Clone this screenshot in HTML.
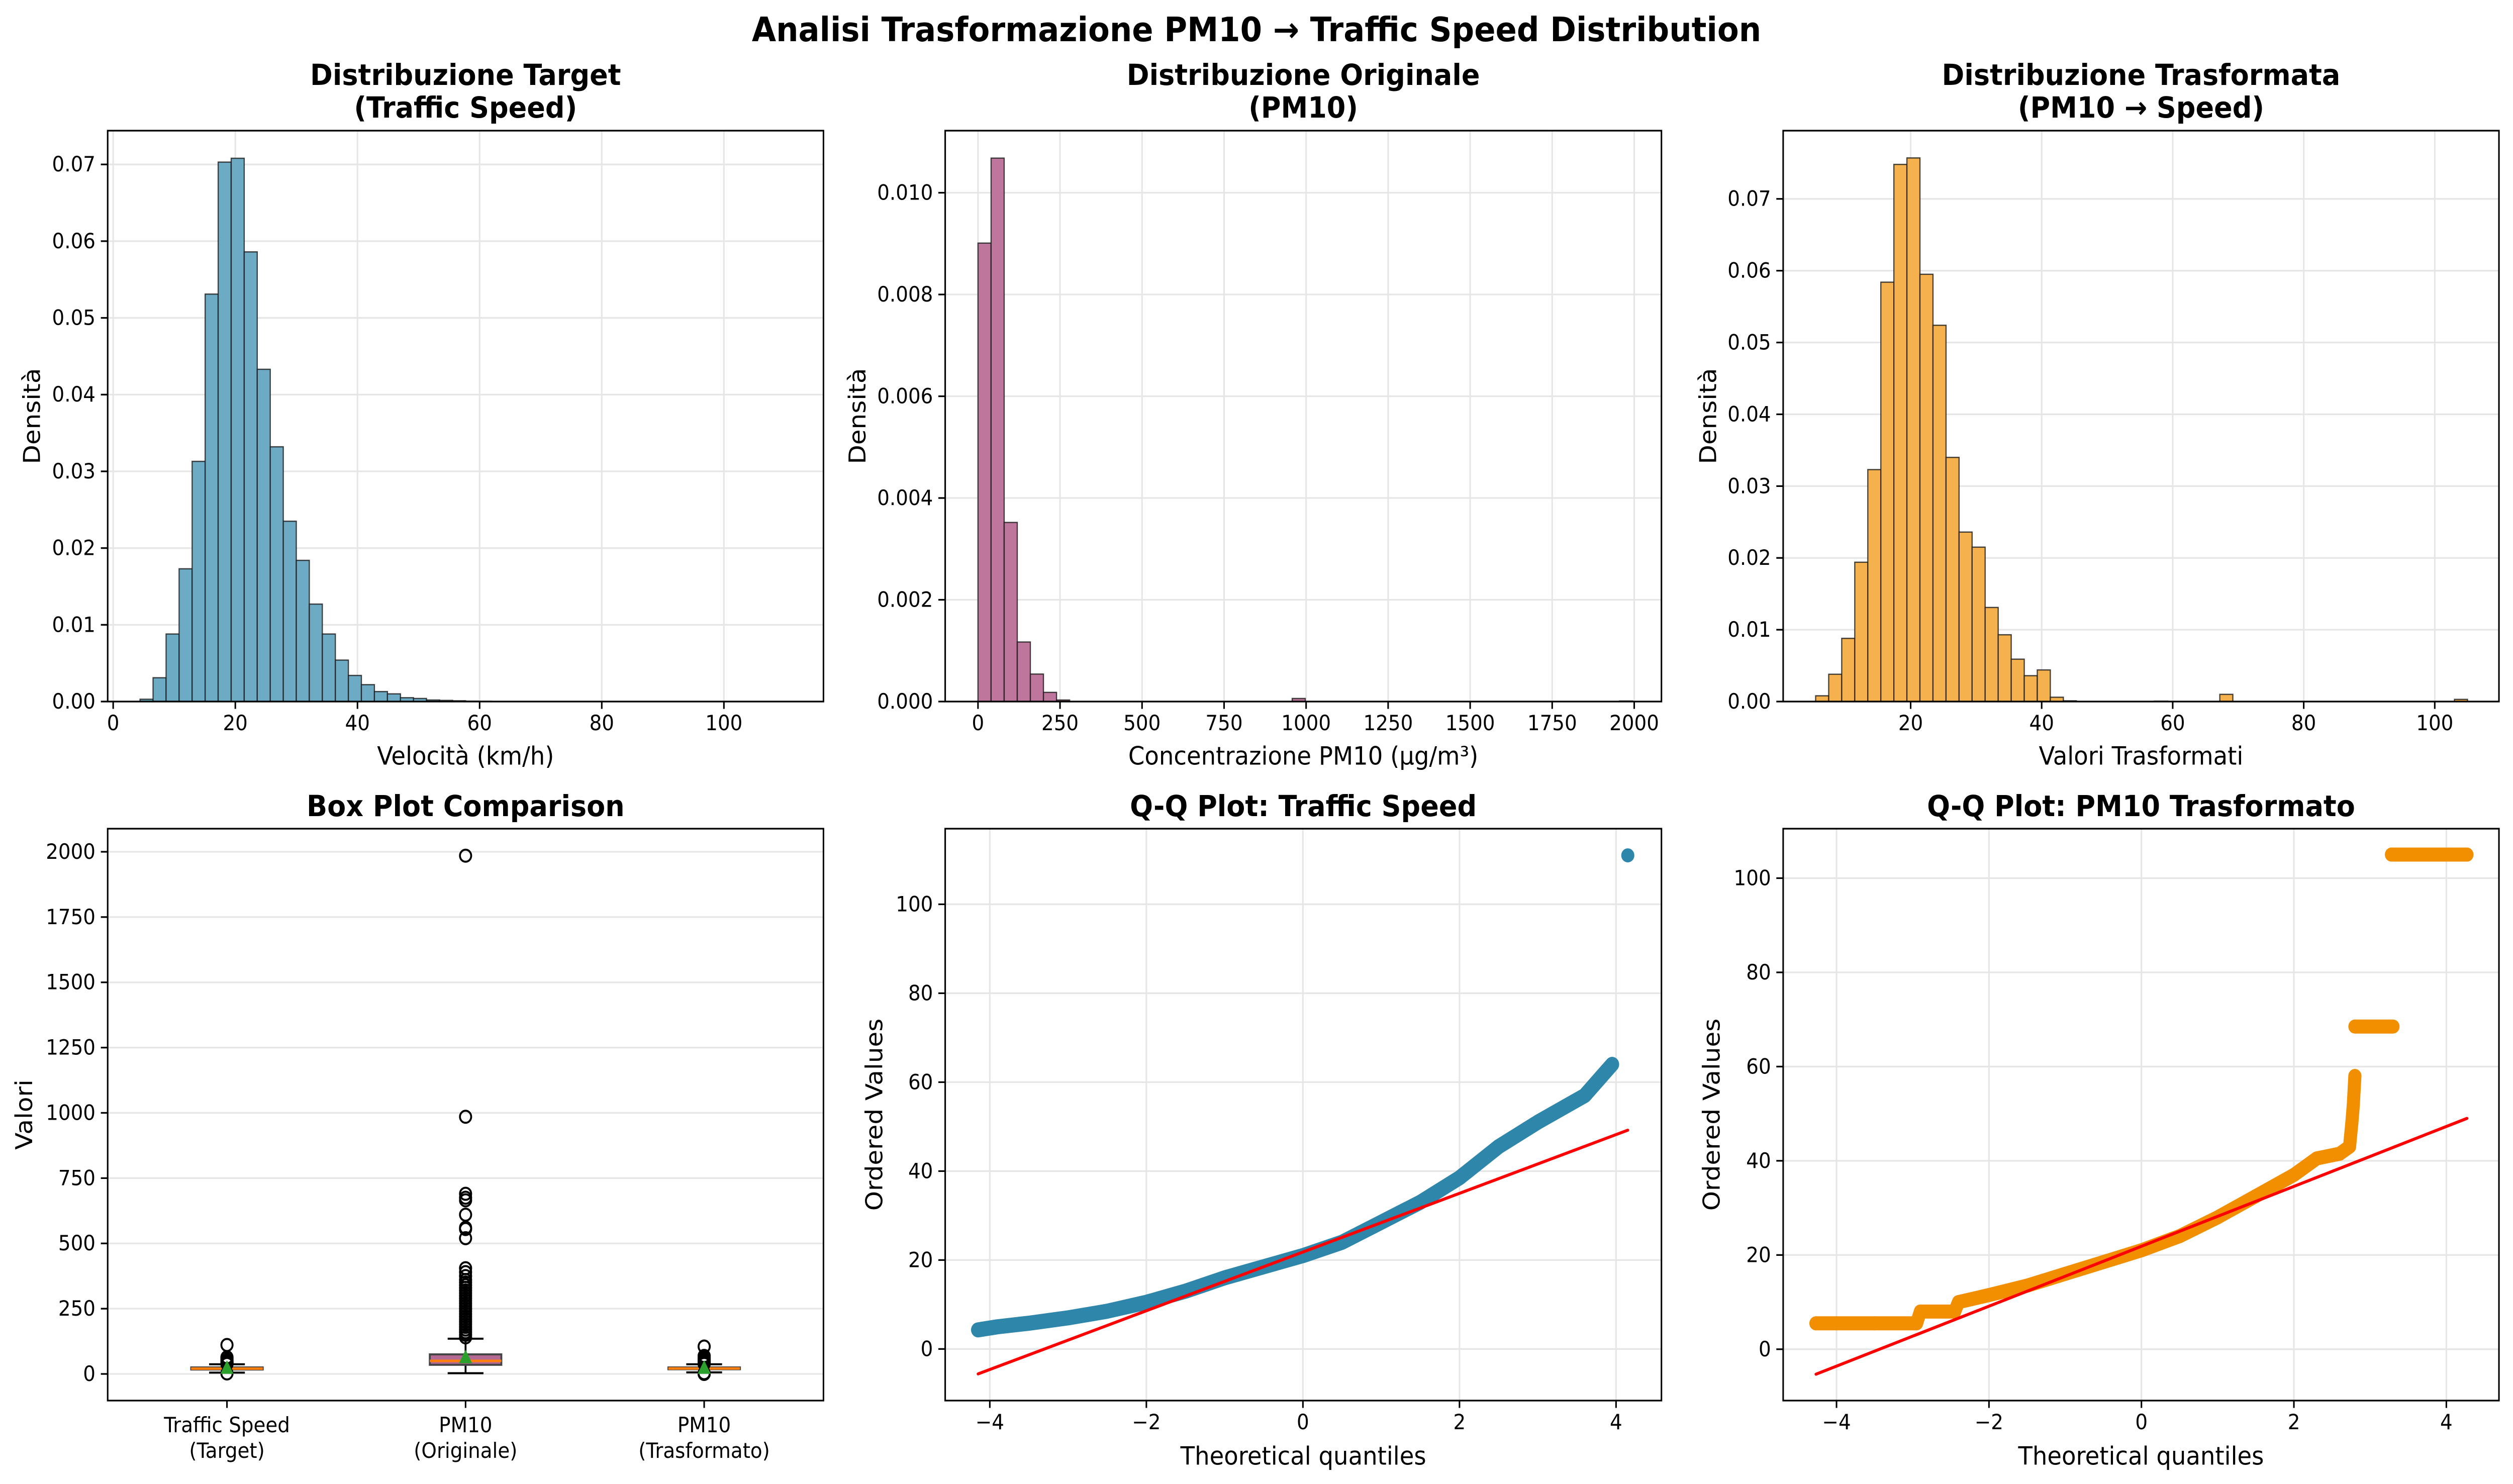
<!DOCTYPE html>
<html><head><meta charset="utf-8">
<style>
html,body{margin:0;padding:0;background:#fff;width:100%;height:100%;overflow:hidden;}
svg{display:block;position:fixed;left:0;top:0;width:100vw;height:100vh;font-family:"DejaVu Sans","Liberation Sans",sans-serif;}
</style></head>
<body>
<svg id="fig" viewBox="0 0 5368 2953" preserveAspectRatio="none" xmlns="http://www.w3.org/2000/svg">
<rect width="5368" height="2953" fill="#fff"/>
<text x="2684" y="60" text-anchor="middle" dominant-baseline="central" font-size="67" font-weight="bold">Analisi Trasformazione PM10 → Traffic Speed Distribution</text>
</svg>
<script>
// ---------- data ----------
const speedBinStart = 4.4;
const speedBinWidth = 2.132;
const speedDensity = [0.0003,0.0031,0.0088,0.0173,0.0313,0.0531,0.0703,0.0708,0.0586,0.0433,0.0332,0.0235,0.0184,0.0127,0.0088,0.0054,0.0034,0.0022,0.0013,0.0010,0.0005,0.0004,0.0002,0.00015,0.0001,0.00005,0.00003,0,0,0,0,0,0,0,0,0,0,0,0,0,0,0,0,0,0,0,0,0,0,0.00001];
const pmBinStart = 0;
const pmBinWidth = 39.9;
const pmDensity = [0.00901,0.01068,0.00352,0.00117,0.00054,0.00018,0.00003,0,0,0,0,0,0,0,0,0,0,0,0,0,0,0,0,0,0.00006,0,0,0,0,0,0,0,0,0,0,0,0,0,0,0,0,0,0,0,0,0,0,0,0,0.00001];
const trBinStart = 5.5;
const trBinWidth = 1.99;
const trDensity = [0.0008,0.0038,0.0088,0.0194,0.0323,0.0584,0.0748,0.0757,0.0595,0.0524,0.0340,0.0236,0.0215,0.0131,0.0093,0.0059,0.0036,0.0044,0.0006,0.0001,0,0,0,0,0,0,0.00005,0,0,0,0,0.0010,0,0,0,0,0,0,0,0,0,0,0,0,0,0,0,0,0,0.0003];

const boxLabels = [["Traffic Speed","(Target)"],["PM10","(Originale)"],["PM10","(Trasformato)"]];
const boxQ1 = [17, 35, 18];
const boxMedian = [20.5, 50, 21];
const boxQ3 = [25, 75, 25];
const boxWhiskLo = [5, 3, 6];
const boxWhiskHi = [37, 135, 37];
const boxMean = [21.6, 62, 21.7];
const boxOutliers1 = [2,38,39,40,41,42,43,44,45,46,47,48,50,52,54,56,58,60,62,64,111];
const boxOutliers2 = [140,150,160,170,180,190,200,210,220,230,240,250,260,270,280,290,300,310,320,330,340,350,360,375,390,405,520,555,560,610,665,675,690,985,1985];
const boxOutliers3 = [0,3,38,39,40,41,42,43,44,45,46,48,52,55,58,62,69,105];

const qqSpeedQ = [-4.15,-3.9,-3.5,-3,-2.5,-2,-1.5,-1,-0.5,0,0.5,1,1.5,2,2.5,3,3.3,3.6,3.8,3.95];
const qqSpeedV = [4.3,5,5.8,7,8.5,10.5,13,16,18.5,21,24,28.5,33,38.5,45.5,51,54,57,61,64];
const qqSpeedOutQ = [4.15];
const qqSpeedOutV = [111];
const qqSpeedLineQ = [-4.15, 4.15];
const qqSpeedLineV = [-5.6, 49.2];

const qqPmQ = [-4.27,-4.0,-3.5,-2.95,-2.9,-2.45,-2.4,-2,-1.5,-1,-0.5,0,0.5,1,1.5,2,2.3,2.6,2.73,2.76,2.78,2.8];
const qqPmV = [5.5,5.5,5.5,5.5,8,8,10,11.5,13.5,16,18.5,21,24,28,32.5,37,40.5,41.5,43,48,52,58];
const qqPmPlateau1Q = [2.8, 3.3];
const qqPmPlateau1V = [68.5, 68.5];
const qqPmPlateau2Q = [3.28, 4.05, 4.27];
const qqPmPlateau2V = [105, 105, 105];
const qqPmLineQ = [-4.27, 4.27];
const qqPmLineV = [-5.3, 49];

// ---------- helpers ----------
const NS = "http://www.w3.org/2000/svg";
const fig = document.getElementById('fig');
function mk(parent, tag, attrs, name, inter) {
  const el = document.createElementNS(NS, tag);
  for (const k in attrs) el.setAttribute(k, attrs[k]);
  
  
  parent.appendChild(el);
  return el;
}
function txt(parent, x, y, s, size, name, extra) {
  const t = mk(parent, 'text', Object.assign({x:x, y:y, 'font-size':size, 'text-anchor':'middle', 'dominant-baseline':'central'}, extra||{}), name, false);
  t.textContent = s;
  return t;
}
function makeAxes(cfg) {
  const g = mk(fig, 'g', {}, cfg.name, false);
  const sx = v => cfg.x0 + (v - cfg.xmin) / (cfg.xmax - cfg.xmin) * (cfg.x1 - cfg.x0);
  const sy = v => cfg.y1 - (v - cfg.ymin) / (cfg.ymax - cfg.ymin) * (cfg.y1 - cfg.y0);
  const grid = mk(g, 'g', {}, 'grid', false);
  (cfg.xgrid ? cfg.xticks : []).forEach(v => {
    mk(grid, 'line', {x1:sx(v), x2:sx(v), y1:cfg.y0, y2:cfg.y1, stroke:'#e6e6e6', 'stroke-width':3.3}, 'x-grid-line', false);
  });
  cfg.yticks.forEach(v => {
    mk(grid, 'line', {x1:cfg.x0, x2:cfg.x1, y1:sy(v), y2:sy(v), stroke:'#e6e6e6', 'stroke-width':3.3}, 'y-grid-line', false);
  });
  const plot = mk(g, 'g', {}, 'plot-area', false);
  const ax = mk(g, 'g', {}, 'axes-frame', false);
  mk(ax, 'rect', {x:cfg.x0, y:cfg.y0, width:cfg.x1-cfg.x0, height:cfg.y1-cfg.y0, fill:'none', stroke:'#000', 'stroke-width':3.3}, 'axes-spines', false);
  cfg.xticks.forEach((v,i) => {
    mk(ax, 'line', {x1:sx(v), x2:sx(v), y1:cfg.y1, y2:cfg.y1+14.6, stroke:'#000', 'stroke-width':3.3}, 'x-tick', false);
    const lab = cfg.xlabels[i];
    if (Array.isArray(lab)) {
      txt(ax, sx(v), cfg.y1+49, lab[0], 41.7, 'x-tick-label');
      txt(ax, sx(v), cfg.y1+100, lab[1], 41.7, 'x-tick-label');
    } else txt(ax, sx(v), cfg.y1+43, lab, 41.7, 'x-tick-label');
  });
  cfg.yticks.forEach((v,i) => {
    mk(ax, 'line', {x1:cfg.x0-14.6, x2:cfg.x0, y1:sy(v), y2:sy(v), stroke:'#000', 'stroke-width':3.3}, 'y-tick', false);
    txt(ax, cfg.x0-26, sy(v), cfg.ylabels[i], 41.7, 'y-tick-label', {'text-anchor':'end'});
  });
  const cx = (cfg.x0+cfg.x1)/2;
  if (cfg.title.length === 2) {
    txt(g, cx, 150, cfg.title[0], 58, 'axes-title', {'font-weight':'bold'});
    txt(g, cx, 215, cfg.title[1], 58, 'axes-title', {'font-weight':'bold'});
  } else txt(g, cx, cfg.y0-44, cfg.title[0], 58, 'axes-title', {'font-weight':'bold'});
  if (cfg.xtitle) txt(g, cx, cfg.xtitleY, cfg.xtitle, 50, 'x-axis-title');
  const ymid = (cfg.y0+cfg.y1)/2;
  txt(g, cfg.ytitleX, ymid, cfg.ytitle, 50, 'y-axis-title', {transform:`rotate(-90 ${cfg.ytitleX} ${ymid})`});
  return {g, plot, sx, sy};
}
function fmt(v, d) { return (v < 0 ? '\u2212' : '') + Math.abs(v).toFixed(d); }
function hist(A, start, width, dens, fill, name) {
  dens.forEach((d,i) => {
    if (d <= 0) return;
    const a = start + i*width, b = a + width;
    mk(A.plot, 'rect', {x:A.sx(a), y:A.sy(d), width:A.sx(b)-A.sx(a), height:A.sy(0)-A.sy(d), fill:fill, stroke:'#1a1a1a', 'stroke-opacity':0.8, 'stroke-width':2.5}, name, false);
  });
}

// ---------- panel 1 ----------
const t1 = [0,20,40,60,80,100];
const yd = [0,0.01,0.02,0.03,0.04,0.05,0.06,0.07];
const A1 = makeAxes({name:'hist-traffic-speed', x0:230,x1:1759,y0:260,y1:1396, xmin:-0.9,xmax:116.3,ymin:0,ymax:0.0744,
  xticks:t1, xlabels:t1.map(String), yticks:yd, ylabels:yd.map(v=>fmt(v,2)), xgrid:true,
  title:['Distribuzione Target','(Traffic Speed)'], xtitle:'Velocità (km/h)', xtitleY:1505, ytitle:'Densità', ytitleX:69});
hist(A1, speedBinStart, speedBinWidth, speedDensity, '#6DAAC4', 'speed-bar');

// ---------- panel 2 ----------
const t2 = [0,250,500,750,1000,1250,1500,1750,2000];
const yd2 = [0,0.002,0.004,0.006,0.008,0.010];
const A2 = makeAxes({name:'hist-pm10-original', x0:2019,x1:3549,y0:260,y1:1396, xmin:-100,xmax:2083,ymin:0,ymax:0.01122,
  xticks:t2, xlabels:t2.map(String), yticks:yd2, ylabels:yd2.map(v=>fmt(v,3)), xgrid:true,
  title:['Distribuzione Originale','(PM10)'], xtitle:'Concentrazione PM10 (μg/m³)', xtitleY:1505, ytitle:'Densità', ytitleX:1832});
hist(A2, pmBinStart, pmBinWidth, pmDensity, '#BE769C', 'pm10-bar');

// ---------- panel 3 ----------
const t3 = [20,40,60,80,100];
const A3 = makeAxes({name:'hist-pm10-transformed', x0:3809,x1:5338,y0:260,y1:1396, xmin:0.54,xmax:109.8,ymin:0,ymax:0.0795,
  xticks:t3, xlabels:t3.map(String), yticks:yd, ylabels:yd.map(v=>fmt(v,2)), xgrid:true,
  title:['Distribuzione Trasformata','(PM10 → Speed)'], xtitle:'Valori Trasformati', xtitleY:1505, ytitle:'Densità', ytitleX:3649});
hist(A3, trBinStart, trBinWidth, trDensity, '#F5B14D', 'transformed-bar');

// ---------- panel 4: box plot ----------
const yb = [0,250,500,750,1000,1250,1500,1750,2000];
const A4 = makeAxes({name:'box-plot-comparison', x0:230,x1:1759,y0:1649,y1:2787, xmin:0.5,xmax:3.5,ymin:-102,ymax:2088.5,
  xticks:[1,2,3], xlabels:boxLabels, yticks:yb, ylabels:yb.map(String), xgrid:false,
  title:['Box Plot Comparison'], ytitle:'Valori', ytitleX:52});
const boxFill = ['#4f8fa8','#b56a93','#d98a2a'];
const outs = [boxOutliers1, boxOutliers2, boxOutliers3];
for (let i=0;i<3;i++) {
  const p = i+1, hw = 0.15, cw = 0.075;
  const bg = mk(A4.plot, 'g', {}, 'box-'+(i+1), false);
  mk(bg, 'line', {x1:A4.sx(p), x2:A4.sx(p), y1:A4.sy(boxWhiskLo[i]), y2:A4.sy(boxQ1[i]), stroke:'#000','stroke-width':4}, 'whisker-low', false);
  mk(bg, 'line', {x1:A4.sx(p), x2:A4.sx(p), y1:A4.sy(boxQ3[i]), y2:A4.sy(boxWhiskHi[i]), stroke:'#000','stroke-width':4}, 'whisker-high', false);
  mk(bg, 'line', {x1:A4.sx(p-cw), x2:A4.sx(p+cw), y1:A4.sy(boxWhiskLo[i]), y2:A4.sy(boxWhiskLo[i]), stroke:'#000','stroke-width':4}, 'cap-low', false);
  mk(bg, 'line', {x1:A4.sx(p-cw), x2:A4.sx(p+cw), y1:A4.sy(boxWhiskHi[i]), y2:A4.sy(boxWhiskHi[i]), stroke:'#000','stroke-width':4}, 'cap-high', false);
  mk(bg, 'rect', {x:A4.sx(p-hw), y:A4.sy(boxQ3[i]), width:A4.sx(p+hw)-A4.sx(p-hw), height:A4.sy(boxQ1[i])-A4.sy(boxQ3[i]), fill:boxFill[i], stroke:'#444','stroke-width':4}, 'box-body', false);
  mk(bg, 'line', {x1:A4.sx(p-hw), x2:A4.sx(p+hw), y1:A4.sy(boxMedian[i]), y2:A4.sy(boxMedian[i]), stroke:'#ff7f0e','stroke-width':5}, 'median-line', false);
  outs[i].forEach(v => {
    mk(bg, 'circle', {cx:A4.sx(p), cy:A4.sy(v), r:12, fill:'none', stroke:'#000','stroke-width':4}, 'outlier', false);
  });
  const mx = A4.sx(p), my = A4.sy(boxMean[i]);
  mk(bg, 'polygon', {points:`${mx},${my-16} ${mx-14},${my+11} ${mx+14},${my+11}`, fill:'#2ca02c'}, 'mean-marker', false);
}

// ---------- panel 5: QQ speed ----------
const tq = [-4,-2,0,2,4];
const yq = [0,20,40,60,80,100];
function poly(A, qs, vs, color, w, name) {
  const pts = qs.map((q,i)=>A.sx(q)+','+A.sy(vs[i])).join(' ');
  mk(A.plot, 'polyline', {points:pts, fill:'none', stroke:color, 'stroke-width':w, 'stroke-linecap':'round','stroke-linejoin':'round'}, name, false);
}
function dots(A, qs, vs, color, name) {
  qs.forEach((q,i)=>{
    mk(A.plot, 'circle', {cx:A.sx(q), cy:A.sy(vs[i]), r:14, fill:color}, name, false);
  });
}
const A5 = makeAxes({name:'qq-plot-traffic-speed', x0:2019,x1:3549,y0:1649,y1:2787, xmin:-4.57,xmax:4.58,ymin:-11.6,ymax:117,
  xticks:tq, xlabels:tq.map(v=>fmt(v,0)), yticks:yq, ylabels:yq.map(String), xgrid:true,
  title:['Q-Q Plot: Traffic Speed'], xtitle:'Theoretical quantiles', xtitleY:2898, ytitle:'Ordered Values', ytitleX:1868});
poly(A5, qqSpeedQ, qqSpeedV, '#2E86AB', 30, 'qq-speed-points');
dots(A5, qqSpeedQ, qqSpeedV, '#2E86AB', 'qq-speed-point');
dots(A5, qqSpeedOutQ, qqSpeedOutV, '#2E86AB', 'qq-speed-outlier');
poly(A5, qqSpeedLineQ, qqSpeedLineV, '#ff0000', 6, 'qq-speed-fit-line');

// ---------- panel 6: QQ transformed ----------
const A6 = makeAxes({name:'qq-plot-pm10-transformed', x0:3809,x1:5338,y0:1649,y1:2787, xmin:-4.70,xmax:4.69,ymin:-10.9,ymax:110.5,
  xticks:tq, xlabels:tq.map(v=>fmt(v,0)), yticks:yq, ylabels:yq.map(String), xgrid:true,
  title:['Q-Q Plot: PM10 Trasformato'], xtitle:'Theoretical quantiles', xtitleY:2898, ytitle:'Ordered Values', ytitleX:3657});
poly(A6, qqPmQ, qqPmV, '#F18F01', 28, 'qq-pm10-points');
dots(A6, qqPmQ, qqPmV, '#F18F01', 'qq-pm10-point');
poly(A6, qqPmPlateau1Q, qqPmPlateau1V, '#F18F01', 28, 'qq-pm10-plateau-68');
poly(A6, qqPmPlateau2Q, qqPmPlateau2V, '#F18F01', 28, 'qq-pm10-plateau-105');
dots(A6, qqPmPlateau2Q, qqPmPlateau2V, '#F18F01', 'qq-pm10-point');
poly(A6, qqPmLineQ, qqPmLineV, '#ff0000', 6, 'qq-pm10-fit-line');
</script>
</body></html>
